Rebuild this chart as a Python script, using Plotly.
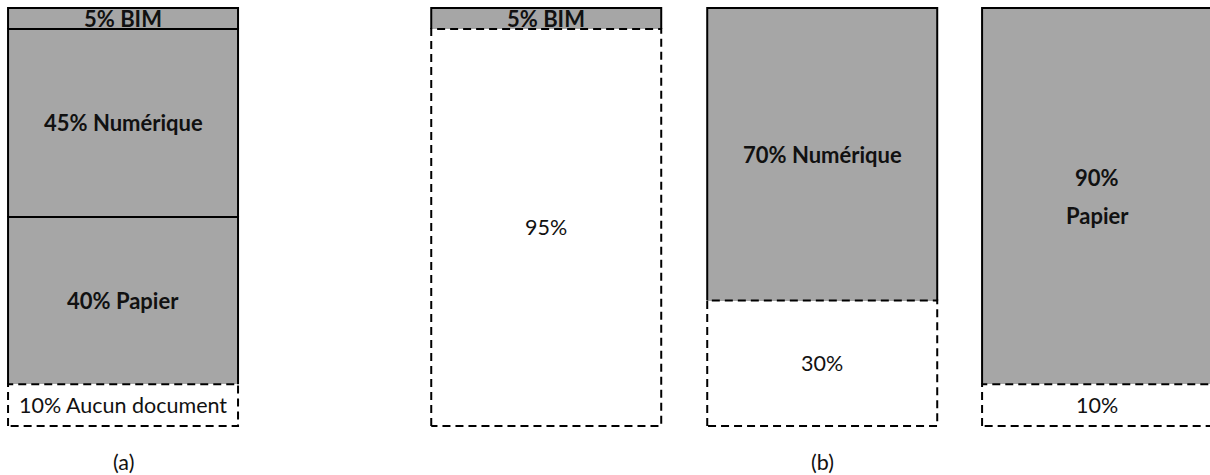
"""Stacked document-type bars, (a) and (b) panels."""
import plotly.graph_objects as go

# bar positions (in bar widths) and group captions
bar_x = [0.0, 1.84, 3.04, 4.235]
group_labels = ["(a)", "(b)"]
group_bar = [0, 2]

# segment values, bottom to top
aucun = [10, 95, 30, 10]
papier = [40, 0, 0, 90]
numerique = [45, 0, 70, 0]
bim = [5, 5, 0, 0]

aucun_text = ["10% Aucun document", "95%", "30%", "10%"]
papier_text = ["40% Papier", "", "", "90%<br>Papier"]
numerique_text = ["45% Numérique", "", "70% Numérique", ""]
bim_text = ["5% BIM", "5% BIM", "", ""]

GRAY = "#a6a6a6"
FONT = "Lato"
W = 1.0
LINE_GAP = 38  # px between wrapped label lines

fig = go.Figure()

stack = [
    (aucun, aucun_text, "white", False),
    (papier, papier_text, GRAY, True),
    (numerique, numerique_text, GRAY, True),
    (bim, bim_text, GRAY, True),
]

base = [0] * len(bar_x)
solid_x, solid_y, dash_x, dash_y = [], [], [], []
annotations = []
for values, texts, color, bold in stack:
    fig.add_trace(go.Bar(
        x=bar_x, y=values, base=base, width=W,
        marker=dict(color=color, line=dict(width=0)),
        hoverinfo="skip", showlegend=False,
    ))
    for i, v in enumerate(values):
        if v <= 0:
            continue
        x0, x1 = bar_x[i] - W / 2, bar_x[i] + W / 2
        y0, y1 = base[i], base[i] + v
        if bold:
            # open box: left, top, right (bottom is shared with segment below)
            solid_x += [x0, x0, x1, x1, None]
            solid_y += [y0, y1, y1, y0, None]
        else:
            dash_x += [x0, x0, x1, x1, x0, None]
            dash_y += [y0, y1, y1, y0, y0, None]
        if not texts[i]:
            continue
        lines = texts[i].split("<br>")
        for k, line in enumerate(lines):
            annotations.append(dict(
                x=bar_x[i], y=(y0 + y1) / 2,
                text=f"<b>{line}</b>" if bold else line,
                showarrow=False,
                yshift=((len(lines) - 1) / 2 - k) * LINE_GAP,
                font=dict(family=FONT, size=22 if bold else 21.5, color="#111111"),
                xanchor="center", yanchor="middle",
            ))
    base = [b + v for b, v in zip(base, values)]

fig.add_trace(go.Scatter(
    x=solid_x, y=solid_y, mode="lines",
    line=dict(color="black", width=2),
    hoverinfo="skip", showlegend=False,
))
fig.add_trace(go.Scatter(
    x=dash_x, y=dash_y, mode="lines",
    line=dict(color="black", width=2, dash="8px,5px"),
    hoverinfo="skip", showlegend=False,
))

for lab, bi in zip(group_labels, group_bar):
    annotations.append(dict(
        x=bar_x[bi], y=-8.6, text=lab, showarrow=False,
        font=dict(family=FONT, size=21.5, color="#111111"),
        xanchor="center", yanchor="middle",
    ))

fig.update_layout(
    width=1210, height=475,
    margin=dict(l=0, r=0, t=0, b=0),
    paper_bgcolor="white", plot_bgcolor="white",
    barmode="overlay", bargap=0,
    xaxis=dict(range=[-0.535, 4.726], visible=False, fixedrange=True),
    yaxis=dict(range=[-11.72, 101.91], visible=False, fixedrange=True),
    annotations=annotations,
    showlegend=False,
)

fig.write_html(
    "out.html",
    config={"displayModeBar": False},
    post_script="document.body.style.margin='0';",
)
